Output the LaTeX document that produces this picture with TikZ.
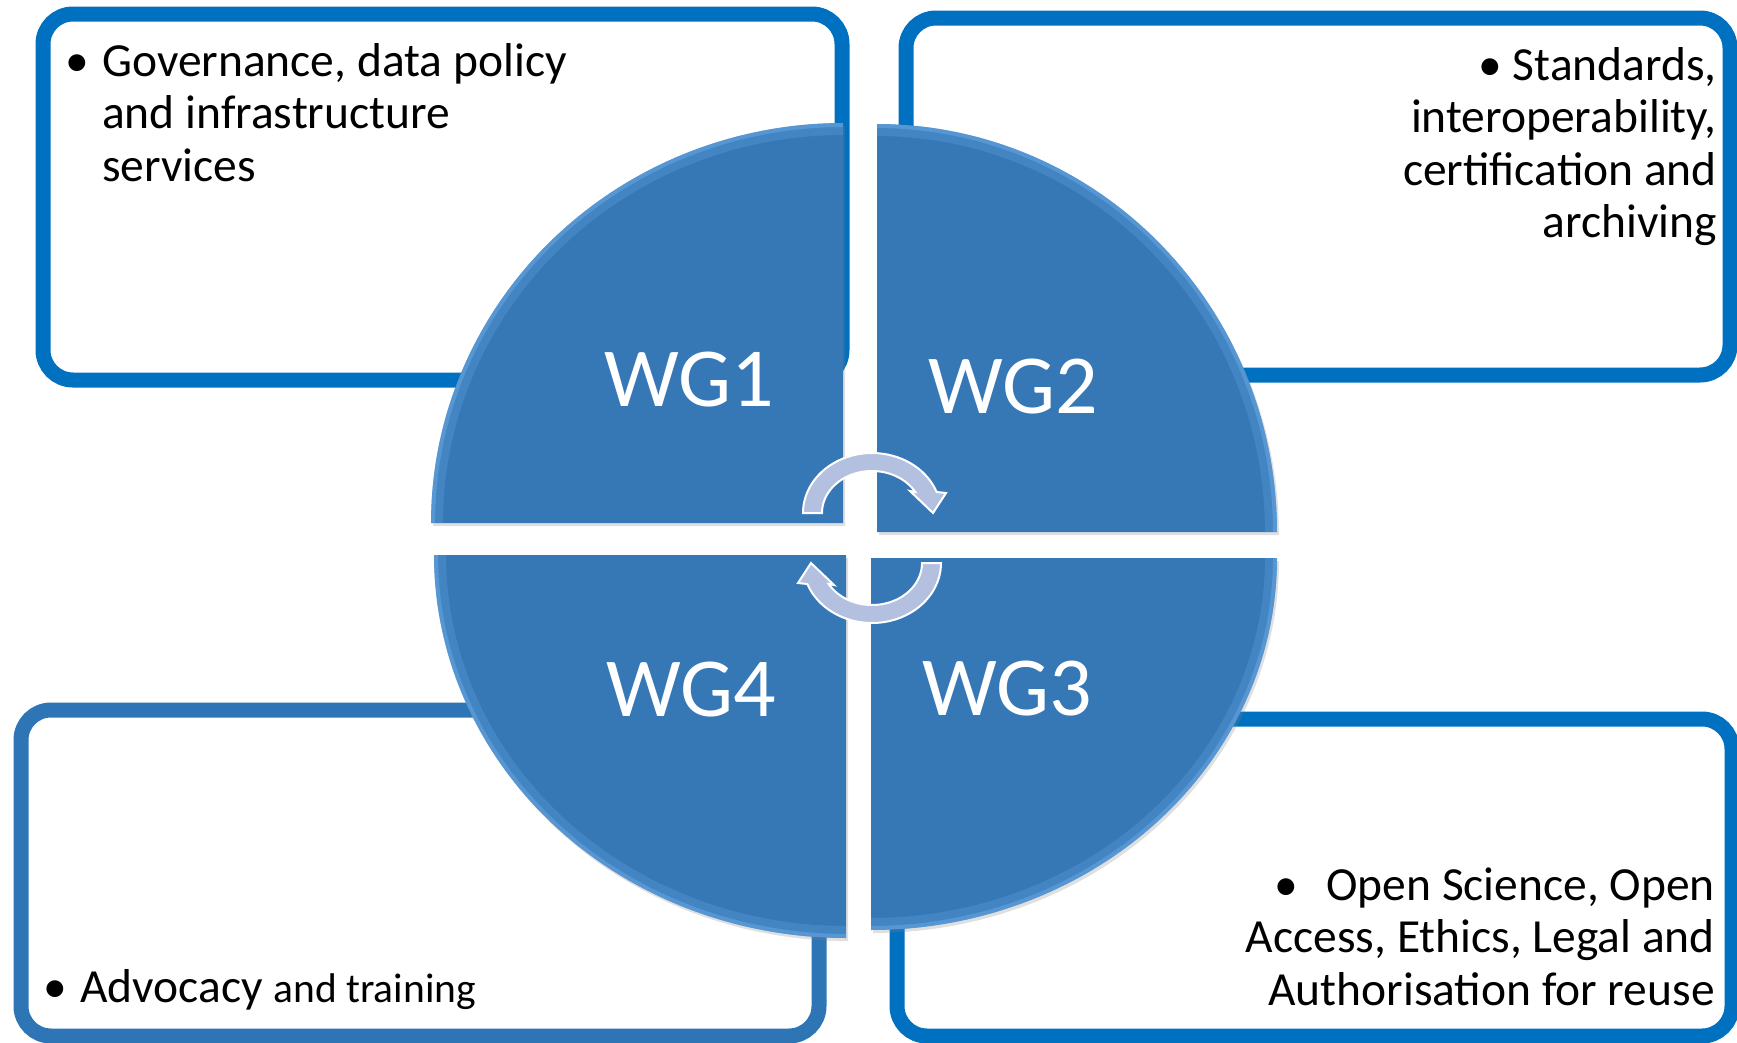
\documentclass[tikz,border=0pt]{standalone}
\usepackage{fontspec}
\setmainfont{Carlito}
\usetikzlibrary{shadows}

\definecolor{boxblue}{RGB}{0,112,192}
\definecolor{boxsteel}{RGB}{46,117,182}
\definecolor{wgblue}{RGB}{54,119,182}
\definecolor{wgedge}{RGB}{120,185,245}
\definecolor{turnfill}{RGB}{180,192,224}

\begin{document}
\begin{tikzpicture}[x=1pt, y=-1pt]

\tikzset{
    infobox/.style={draw=boxblue, line width=15pt, rounded corners=30pt},
    infotext/.style={font=\fontsize{47.5}{52.5}\selectfont, inner sep=0pt},
    wglabel/.style={font=\fontsize{84}{84}\selectfont, text=white, inner sep=0pt, anchor=base west},
    quarter/.style={fill=wgblue, drop shadow={opacity=.25, shadow xshift=2pt, shadow yshift=-3pt}},
    turnarrow/.style={fill=turnfill, draw=white, line width=2pt, line join=miter}
}

\useasboundingbox (0,0) rectangle (1737,1042);

% boxes
\draw[infobox] (43,14) rectangle (842,380);
\draw[infobox] (906,18) rectangle (1730,375);
\draw[infobox] (897,719) rectangle (1732,1036);
\draw[infobox, draw=boxsteel] (21,710) rectangle (819,1036);

\node[infotext, text width=600pt, align=flush left, anchor=base west] (gov) at (102,76)
    {\noindent\llap{\textbullet\hspace{13pt}}Governance, data policy\\and infrastructure\\services};
\node[infotext, text width=600pt, align=flush right, anchor=base east] (std) at (1717,80)
    {\textbullet\ Standards,\\interoperability,\\certification and\\archiving};
\node[infotext, text width=700pt, align=flush right, anchor=base east] (osc) at (1715,900)
    {\textbullet\hspace{28pt}Open Science, Open\\Access, Ethics, Legal and\\Authorisation for reuse};
\node[infotext, anchor=base west] (adv) at (80,1002)
    {\llap{\textbullet\hspace{13pt}}Advocacy {\fontsize{41.5}{52}\selectfont and training}};

% quarters
\foreach \cx/\cy/\rx/\ry/\ta/\tb in {843/523/412/400/180/270, 877/532/400/408/270/360,
                                     871/558/406/372/0/90, 846/555/412/383/90/180}{
    \fill[quarter] (\cx,\cy) -- plot[domain=\ta:\tb, samples=80] ({\cx+\rx*cos(\x)},{\cy+\ry*sin(\x)}) -- cycle;
    \begin{scope}
        \clip (\cx,\cy) -- plot[domain=\ta:\tb, samples=80] ({\cx+\rx*cos(\x)},{\cy+\ry*sin(\x)}) -- cycle;
        \draw[wgedge, line width=24pt, opacity=.2] plot[domain=\ta:\tb, samples=80] ({\cx+\rx*cos(\x)},{\cy+\ry*sin(\x)});
        \draw[wgedge, line width=8pt, opacity=.35] plot[domain=\ta:\tb, samples=80] ({\cx+\rx*cos(\x)},{\cy+\ry*sin(\x)});
    \end{scope}
}

\node[wglabel] (wg1) at (604,406) {WG1};
\node[wglabel] (wg2) at (928,413) {WG2};
\node[wglabel] (wg3) at (922,715) {WG3};
\node[wglabel] (wg4) at (606,716) {WG4};

% cycle arrows
\filldraw[turnarrow] plot[domain=180:339.5, samples=50] ({872+69*cos(\x)},{513+60*sin(\x)})
    -- (946,493) -- (933,513) -- (910,491)
    -- plot[domain=330:180, samples=50] ({872+50*cos(\x)},{513+42*sin(\x)}) -- cycle;
\begin{scope}[rotate around={180:(872,538)}]
\filldraw[turnarrow] plot[domain=180:339.5, samples=50] ({872+69*cos(\x)},{513+60*sin(\x)})
    -- (946,493) -- (933,513) -- (910,491)
    -- plot[domain=330:180, samples=50] ({872+50*cos(\x)},{513+42*sin(\x)}) -- cycle;
\end{scope}
    %
\end{tikzpicture}
\end{document}
